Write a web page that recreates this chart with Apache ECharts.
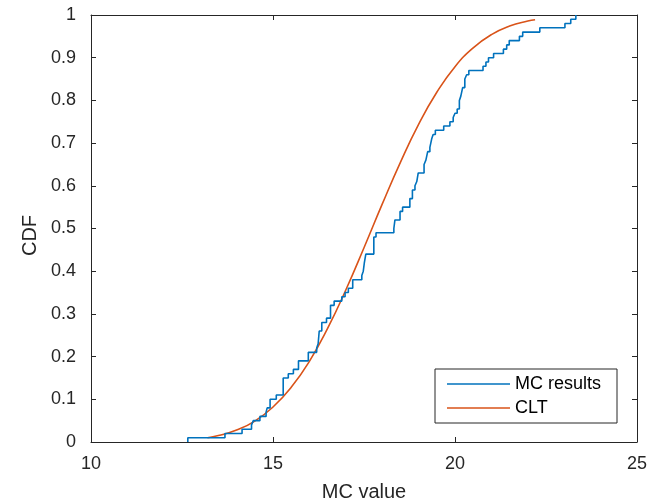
<!DOCTYPE html>
<html>
<head>
<meta charset="utf-8">
<script src="https://cdn.jsdelivr.net/npm/echarts@6/dist/echarts.min.js"></script>
<style>
html,body{margin:0;padding:0;background:#fff;}
#chart{width:652px;height:500px;}
</style>
</head>
<body>
<div id="chart"></div>
<script>
// Empirical CDF (Monte Carlo) step points: x where the CDF jumps, and the CDF value after the jump
var mcX = [12.66, 12.66, 13.68, 14.15, 14.41, 14.46, 14.64, 14.81, 14.84, 14.92, 15.09, 15.28, 15.42, 15.56, 15.70, 15.97,
  16.20, 16.24, 16.27, 16.34, 16.47, 16.58, 16.68, 16.89, 16.98, 17.07, 17.19, 17.44, 17.48, 17.51, 17.55, 17.77, 17.83,
  18.32, 18.35, 18.49, 18.56, 18.76, 18.83, 18.90, 18.95, 18.99, 19.15, 19.20, 19.25, 19.31, 19.36, 19.40, 19.46,
  19.69, 19.86, 19.95, 20.00, 20.06, 20.12, 20.16, 20.21, 20.27, 20.32, 20.38, 20.77, 20.85, 20.92, 21.06, 21.33,
  21.42, 21.49, 21.77, 21.86, 22.33, 23.02, 23.18, 23.32];
var mcY = [0.00, 0.01, 0.02, 0.03, 0.04, 0.05, 0.06, 0.07, 0.08, 0.10, 0.11, 0.15, 0.16, 0.17, 0.19, 0.21,
  0.22, 0.23, 0.26, 0.28, 0.29, 0.32, 0.33, 0.34, 0.35, 0.36, 0.38, 0.39, 0.40, 0.42, 0.44, 0.48, 0.49,
  0.50, 0.52, 0.54, 0.55, 0.57, 0.59, 0.60, 0.61, 0.63, 0.65, 0.66, 0.68, 0.69, 0.71, 0.72, 0.73,
  0.74, 0.75, 0.76, 0.77, 0.78, 0.80, 0.81, 0.83, 0.85, 0.86, 0.87, 0.88, 0.89, 0.90, 0.91, 0.92,
  0.93, 0.94, 0.95, 0.96, 0.97, 0.98, 0.99, 1.00];

// CLT (normal approximation) CDF
var cltX = [13.2, 13.5, 14.0, 14.5, 15.0, 15.5, 16.0, 16.5, 17.0, 17.5, 18.0, 18.5, 19.0, 19.5, 20.0, 20.5, 21.0, 21.5, 22.0, 22.2];
var cltY = [0.010, 0.015, 0.028, 0.049, 0.082, 0.128, 0.189, 0.266, 0.356, 0.455, 0.557, 0.655, 0.744, 0.819, 0.879, 0.923, 0.954, 0.974, 0.986, 0.989];

var xTicks = ['10', '15', '20', '25'];
var yTicks = ['0', '0.1', '0.2', '0.3', '0.4', '0.5', '0.6', '0.7', '0.8', '0.9', '1'];
var seriesNames = ['MC results', 'CLT'];
var xTitle = 'MC value';
var yTitle = 'CDF';

function zip(a, b) { return a.map(function (v, i) { return [v, b[i]]; }); }

var axisColor = '#262626';
var fontFam = '"Liberation Sans", Arial, Helvetica, sans-serif';
var chart = echarts.init(document.getElementById('chart'), null, { renderer: 'canvas' });

function xLabel(v) { var i = Math.round((v - 10) / 5); return xTicks[i] !== undefined ? xTicks[i] : ''; }
function yLabel(v) { var i = Math.round(v * 10); return yTicks[i] !== undefined ? yTicks[i] : ''; }

var baseAxis = {
  axisLine: { show: true, onZero: false, lineStyle: { color: axisColor, width: 1 } },
  axisTick: { show: true, inside: true, length: 5, lineStyle: { color: axisColor, width: 1 } },
  splitLine: { show: false },
  minorTick: { show: false }
};

chart.setOption({
  animation: false,
  backgroundColor: '#fff',
  grid: { left: 91, right: 15, top: 15, bottom: 58, containLabel: false, outerBoundsMode: 'none' },
  xAxis: [
    Object.assign({}, baseAxis, {
      type: 'value', min: 10, max: 25, interval: 5, position: 'bottom',
      name: xTitle, nameLocation: 'middle', nameGap: 40,
      nameTextStyle: { color: axisColor, fontSize: 20, fontFamily: fontFam },
      axisLabel: { color: axisColor, fontSize: 18, fontFamily: fontFam, margin: 13, formatter: xLabel }
    }),
    Object.assign({}, baseAxis, {
      type: 'value', min: 10, max: 25, interval: 5, position: 'top',
      axisLabel: { show: false }
    })
  ],
  yAxis: [
    Object.assign({}, baseAxis, {
      type: 'value', min: 0, max: 1, interval: 0.1, position: 'left',
      name: yTitle, nameLocation: 'middle', nameGap: 49, nameRotate: 90,
      nameTextStyle: { color: axisColor, fontSize: 20, fontFamily: fontFam, padding: [0, 14, 0, 0] },
      axisLabel: { color: axisColor, fontSize: 18, fontFamily: fontFam, margin: 15, formatter: yLabel }
    }),
    Object.assign({}, baseAxis, {
      type: 'value', min: 0, max: 1, interval: 0.1, position: 'right',
      axisLabel: { show: false }
    })
  ],
  legend: {
    orient: 'vertical', left: 435, top: 369,
    data: [{ name: seriesNames[0], icon: 'rect' }, { name: seriesNames[1], icon: 'rect' }],
    backgroundColor: '#fff', borderColor: axisColor, borderWidth: 1, borderRadius: 0,
    padding: [5, 16, 5, 12],
    itemWidth: 63, itemHeight: 1.5, itemGap: 4,
    textStyle: { color: '#000', fontSize: 18, fontFamily: fontFam, lineHeight: 20 }
  },
  series: [
    {
      name: seriesNames[0], type: 'line', step: 'end', data: zip(mcX, mcY),
      symbol: 'none', xAxisIndex: 0, yAxisIndex: 0,
      lineStyle: { color: '#0072BD', width: 1.6 }, itemStyle: { color: '#0072BD' }, z: 3
    },
    {
      name: seriesNames[1], type: 'line', smooth: true, data: zip(cltX, cltY),
      symbol: 'none', xAxisIndex: 0, yAxisIndex: 0,
      lineStyle: { color: '#D95319', width: 1.6 }, itemStyle: { color: '#D95319' }, z: 2
    }
  ]
});
</script>
</body>
</html>
